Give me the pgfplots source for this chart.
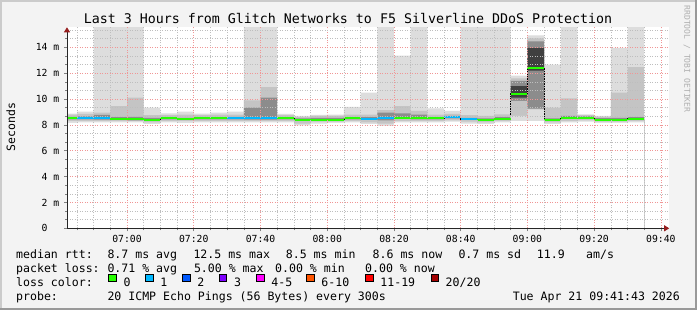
\documentclass[border=0pt]{standalone}
\usepackage{fontspec}
\usepackage{pgfplots}
\pgfplotsset{compat=1.18}
\usepackage{pgfplotstable}
\usetikzlibrary{arrows.meta}
\newfontfamily\rrd{DejaVu Sans Mono}
\definecolor{bgc}{RGB}{243,243,243}
\definecolor{shadea}{RGB}{203,203,203}
\definecolor{shadeb}{RGB}{153,153,153}
\definecolor{gridred}{RGB}{240,150,150}
\definecolor{gridgray}{RGB}{190,190,190}
\definecolor{arrowred}{RGB}{150,30,30}
\definecolor{smL}{RGB}{221,221,221}
\definecolor{smM}{RGB}{196,196,196}
\definecolor{smD}{RGB}{140,140,140}
\definecolor{smX}{RGB}{64,64,64}
\definecolor{loss0}{HTML}{26FF00}
\definecolor{loss1}{HTML}{00B8FF}
\definecolor{loss2}{HTML}{0059FF}
\definecolor{loss3}{HTML}{7E00FF}
\definecolor{loss4}{HTML}{FF00FF}
\definecolor{loss6}{HTML}{FF5500}
\definecolor{loss11}{HTML}{FF0000}
\definecolor{loss20}{HTML}{A10000}
\definecolor{credit}{RGB}{175,175,175}
\newcommand\lf{\rrd\fontsize{11.6}{12}\selectfont}

\pgfplotstableread{
t   lo   m1   d1   e1    e2    d2    m2    hi    med
40  8.15 8.30 8.42 8.50  8.50  8.62  8.80  8.87  8.50
45  8.20 8.30 8.42 8.50  8.50  8.65  8.85  9.03  8.50
50  8.20 8.30 8.40 8.50  8.50  8.78  8.95  16    8.50
55  8.20 8.30 8.38 8.42  8.42  8.60  9.46  16    8.42
60  8.20 8.30 8.35 8.40  8.46  8.62  10.10 16    8.49
65  8.05 8.20 8.35 8.41  8.41  8.55  8.75  9.33  8.41
70  8.20 8.30 8.42 8.51  8.51  8.60  8.75  8.90  8.51
75  8.15 8.30 8.38 8.42  8.42  8.55  8.80  9.03  8.42
80  8.20 8.30 8.42 8.51  8.51  8.60  8.75  8.87  8.51
85  8.20 8.30 8.42 8.51  8.51  8.60  8.80  8.95  8.51
90  8.20 8.30 8.42 8.51  8.51  8.62  8.80  9.03  8.51
95  8.20 8.30 8.40 8.51  8.51  9.33  9.90  16    8.51
100 8.20 8.30 8.40 8.51  8.51  10.10 10.92 16    8.51
105 8.20 8.30 8.42 8.51  8.51  8.60  8.75  8.85  8.51
110 7.97 8.10 8.30 8.38  8.38  8.50  8.60  8.69  8.38
115 8.10 8.25 8.35 8.41  8.41  8.55  8.70  8.78  8.41
120 8.15 8.25 8.35 8.41  8.41  8.55  8.70  8.80  8.41
125 8.20 8.30 8.42 8.51  8.51  8.60  8.80  9.40  8.51
130 8.05 8.20 8.40 8.49  8.49  8.60  8.80  10.49 8.49
135 7.92 8.10 8.35 8.56  8.56  8.95  9.15  16    8.51
140 8.20 8.30 8.45 8.51  8.51  8.90  9.46  13.36 8.51
145 8.20 8.30 8.42 8.51  8.51  8.80  9.08  16    8.51
150 8.20 8.30 8.42 8.51  8.51  8.60  8.80  9.27  8.51
155 8.25 8.35 8.50 8.59  8.59  8.70  8.85  9.08  8.59
160 8.10 8.25 8.38 8.45  8.45  8.55  8.75  16    8.45
165 8.05 8.20 8.30 8.38  8.38  8.50  8.70  16    8.38
170 8.20 8.30 8.40 8.49  8.49  8.60  8.82  16    8.49
175 8.30 8.69 9.85 10.10 11.00 11.40 11.60 11.82 10.41
180 8.30 9.20 9.25 12.20 13.95 14.46 14.70 14.92 12.41
185 8.05 8.20 8.30 8.38  8.38  8.50  9.33  12.67 8.38
190 8.20 8.30 8.45 8.56  8.56  8.70  10.05 16    8.56
195 8.25 8.35 8.48 8.56  8.56  8.65  8.75  8.82  8.56
200 8.15 8.25 8.35 8.41  8.41  8.52  8.62  8.69  8.41
205 8.15 8.25 8.35 8.41  8.41  8.55  10.49 13.95 8.41
210 8.20 8.30 8.40 8.49  8.49  8.60  12.46 16    8.49
215 8.20 8.30 8.40 8.49  8.49  8.60  12.46 16    8.49
}\smoke

\begin{document}
\begin{tikzpicture}[x=1bp,y=1bp]
\fill[bgc] (0,0) rectangle (697,310);
\useasboundingbox (0,0) rectangle (697,310);
\fill[shadea] (0,308) rectangle (697,310);
\fill[shadea] (0,0) rectangle (2,310);
\fill[shadeb] (695,0) rectangle (697,310);
\fill[shadeb] (0,0) rectangle (697,2);

\begin{axis}[
  at={(67bp,81.7bp)}, anchor=south west,
  scale only axis, width=602.2bp, height=201bp,
  xmin=42, xmax=222.5, ymin=0, ymax=15.55,
  axis x line=bottom, axis y line=left,
  axis line style={draw=black!85, line width=0.8bp,
    -{Triangle[length=5bp,width=6bp,color=arrowred]}},
  axis on top,
  axis background/.style={fill=white},
  xtick={60,80,...,220},
  xticklabels={07:00,07:20,07:40,08:00,08:20,08:40,09:00,09:20,09:40},
  minor xtick={45,50,55,65,70,75,85,90,95,105,110,115,125,130,135,145,150,155,165,170,175,185,190,195,205,210,215},
  ytick={0,2,...,14},
  yticklabels={0\phantom{\ m},2 m,4 m,6 m,8 m,10 m,12 m,14 m},
  minor ytick={0.6667,1.3333,2.6667,3.3333,4.6667,5.3333,6.6667,7.3333,8.6667,9.3333,10.6667,11.3333,12.6667,13.3333,14.6667,15.3333},
  grid=both,
  major grid style={color=gridred, dash pattern=on 1bp off 1.5bp, line width=0.6bp},
  minor grid style={color=gridgray, dash pattern=on 1bp off 1.5bp, line width=0.6bp},
  tick align=outside, major tick length=3bp, minor tick length=2bp,
  tick style={color=black!50, line width=0.6bp},
  ticklabel style={font=\rrd\fontsize{9.8}{10}\selectfont, inner sep=0pt},
  xticklabel style={anchor=north, yshift=-3.5bp},
  yticklabel style={anchor=east, xshift=-4.5bp},
  /pgf/number format/assume math mode=true,
]
\addplot[draw=none, fill=smL, const plot] table[x=t, y=hi] {\smoke} \closedcycle;
\addplot[draw=none, fill=smM, const plot] table[x=t, y=m2] {\smoke} \closedcycle;
\addplot[draw=none, fill=smD, const plot] table[x=t, y=d2] {\smoke} \closedcycle;
\addplot[draw=none, fill=smX, const plot] table[x=t, y=e2] {\smoke} \closedcycle;
\addplot[draw=none, fill=smD, const plot] table[x=t, y=e1] {\smoke} \closedcycle;
\addplot[draw=none, fill=smM, const plot] table[x=t, y=d1] {\smoke} \closedcycle;
\addplot[draw=none, fill=smL, const plot] table[x=t, y=m1] {\smoke} \closedcycle;
\addplot[draw=none, fill=white, const plot] table[x=t, y=lo] {\smoke} \closedcycle;
% median
\addplot[black, line width=0.7bp, const plot] table[x=t, y=med] {\smoke};
\addplot[loss0, line width=2bp, jump mark left] table[x=t, y=med] {\smoke};
\addplot[loss1, line width=2bp, jump mark left] coordinates {(45,8.50) (50,8.50) (55,8.50)};
\addplot[loss1, line width=2bp, jump mark left] coordinates {(90,8.51) (95,8.51) (100,8.51) (105,8.51)};
\addplot[loss1, line width=2bp, jump mark left] coordinates {(130,8.49) (135,8.51) (140,8.51)};
\addplot[loss1, line width=2bp, jump mark left] coordinates {(155,8.59) (160,8.45) (165,8.45)};
\end{axis}

\node[anchor=base, inner sep=0] at (348,286.7) {\rrd\fontsize{13.35}{14}\selectfont Last 3 Hours from Glitch Networks to F5 Silverline DDoS Protection};
\node[rotate=90, anchor=center, inner sep=0] at (10.8,183) {\rrd\fontsize{11.5}{12}\selectfont Seconds};
\node[rotate=-90, anchor=center, inner sep=0, text=credit] at (687,251) {\rrd\fontsize{8.1}{9}\selectfont RRDTOOL / TOBI OETIKER};

\begin{scope}[every node/.style={anchor=base west, inner sep=0}]
\node at (16,51.5) {\lf median rtt:};
\node at (107.3,51.5) {\lf 8.7 ms avg};
\node at (193.3,51.5) {\lf 12.5 ms max};
\node at (285.7,51.5) {\lf 8.5 ms min};
\node at (372.5,51.5) {\lf 8.6 ms now};
\node at (458.3,51.5) {\lf 0.7 ms sd};
\node at (536.7,51.5) {\lf 11.9};
\node at (586,51.5) {\lf am/s};
\node at (16,37.5) {\lf packet loss:};
\node at (107.3,37.5) {\lf 0.71 \% avg};
\node at (193.8,37.5) {\lf 5.00 \% max};
\node at (275,37.5) {\lf 0.00 \% min};
\node at (365,37.5) {\lf 0.00 \% now};
\node at (16,24) {\lf loss color:};
\node at (123.3,24) {\lf 0};
\node at (160.2,24) {\lf 1};
\node at (197.2,24) {\lf 2};
\node at (233.8,24) {\lf 3};
\node at (271.2,24) {\lf 4-5};
\node at (321.2,24) {\lf 6-10};
\node at (380.2,24) {\lf 11-19};
\node at (445.5,24) {\lf 20/20};
\node at (16,10) {\lf probe:};
\node at (107.3,10) {\lf 20 ICMP Echo Pings (56 Bytes) every 300s};
\end{scope}
\node[anchor=base east, inner sep=0] at (680,10) {\lf Tue Apr 21 09:41:43 2026};
\begin{scope}[line width=0.8bp, draw=black]
\filldraw[fill=loss0] (108.7,28.3) rectangle ++(7.3,7.3);
\filldraw[fill=loss1] (145.7,28.3) rectangle ++(7.3,7.3);
\filldraw[fill=loss2] (182.7,28.3) rectangle ++(7.3,7.3);
\filldraw[fill=loss3] (219.3,28.3) rectangle ++(7.3,7.3);
\filldraw[fill=loss4] (256.7,28.3) rectangle ++(7.3,7.3);
\filldraw[fill=loss6] (306.7,28.3) rectangle ++(7.3,7.3);
\filldraw[fill=loss11] (365.7,28.3) rectangle ++(7.3,7.3);
\filldraw[fill=loss20] (431.0,28.3) rectangle ++(7.3,7.3);
\end{scope}
\end{tikzpicture}
\end{document}
